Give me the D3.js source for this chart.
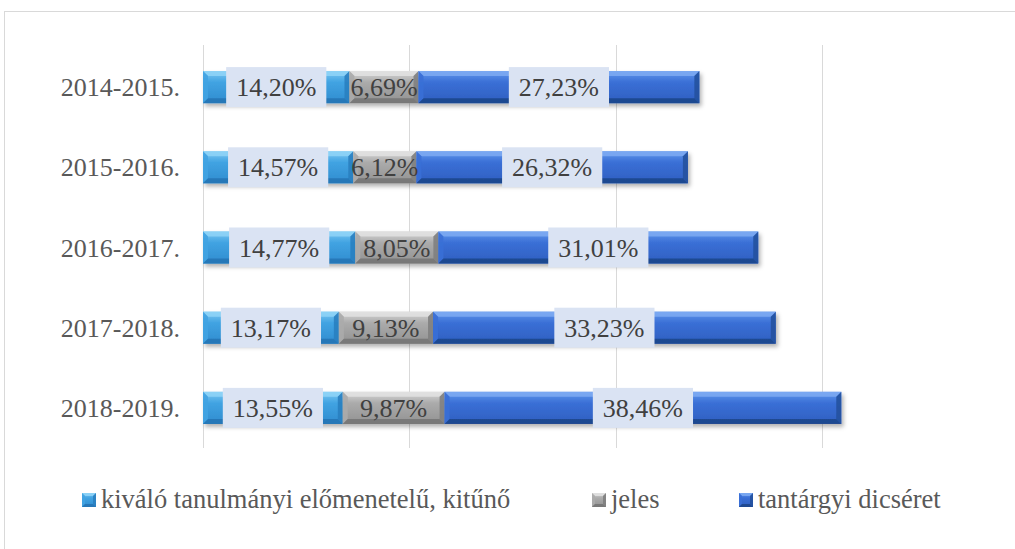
<!DOCTYPE html>
<html><head><meta charset="utf-8">
<script src="https://cdn.jsdelivr.net/npm/d3@7"></script>
<style>body{margin:0;background:#fff} svg{display:block}</style>
</head><body><svg id="c" width="1015" height="549"></svg>
<script>
const categories = ["2014-2015.","2015-2016.","2016-2017.","2017-2018.","2018-2019."];
const seriesNames = ["kiváló tanulmányi előmenetelű, kitűnő","jeles","tantárgyi dicséret"];
const kivalo = [14.20,14.57,14.77,13.17,13.55];
const jeles = [6.69,6.12,8.05,9.13,9.87];
const dicseret = [27.23,26.32,31.01,33.23,38.46];
const xTicks = [0,20,40,60,80];

const svg = d3.select("#c");
const FONT = "'Liberation Serif','Times New Roman',serif";
const palettes = [
  {top:"#7cc8f2", mid:"#41a3e2", bot:"#2f8ccf", light:"#8fd3f7", dark:"#2a7fc0", edge:"#2676b5"},
  {top:"#d6d6d6", mid:"#ababab", bot:"#929292", light:"#e2e2e2", dark:"#808080", edge:"#767676"},
  {top:"#6298ec", mid:"#3a6fd6", bot:"#2f5fc0", light:"#7eaaf2", dark:"#23519e", edge:"#1e478c"}
];
const showBox = [true,false,true];

const defs = svg.append("defs");
palettes.forEach((p,i)=>{
  const g = defs.append("linearGradient").attr("id","g"+i).attr("x1",0).attr("y1",0).attr("x2",0).attr("y2",1);
  g.append("stop").attr("offset","0").attr("stop-color",p.top);
  g.append("stop").attr("offset","0.35").attr("stop-color",p.mid);
  g.append("stop").attr("offset","1").attr("stop-color",p.bot);
});
const f = defs.append("filter").attr("id","sh").attr("x","-5%").attr("y","-30%").attr("width","115%").attr("height","180%");
f.append("feDropShadow").attr("dx",2).attr("dy",3).attr("stdDeviation",2).attr("flood-color","#000").attr("flood-opacity",0.3);

// frame
svg.append("rect").attr("x",4.5).attr("y",11.5).attr("width",1030).attr("height",560)
  .attr("fill","none").attr("stroke","#d9d9d9").attr("stroke-width",1);

const x = d3.scaleLinear().domain([0,80]).range([203,1028.2]);
const y = d3.scaleBand().domain(categories).range([47,448]).paddingInner(0.6).paddingOuter(0.3);

// gridlines
svg.append("g").selectAll("line").data(xTicks).join("line")
  .attr("x1",d=>Math.round(x(d))+0.5).attr("x2",d=>Math.round(x(d))+0.5)
  .attr("y1",45).attr("y2",448).attr("stroke","#d9d9d9").attr("stroke-width",1);

// category labels
svg.append("g").selectAll("text").data(categories).join("text")
  .attr("x",180).attr("y",d=>y(d)+y.bandwidth()/2).attr("dy","0.35em")
  .attr("text-anchor","end").attr("font-family",FONT).attr("font-size",26).attr("fill","#595959")
  .text(d=>d);

const seriesVals = [kivalo,jeles,dicseret];
const rows = categories.map((c,i)=>{
  let acc=0; return seriesVals.map((s,k)=>{const r={cat:c,k,v:s[i],x0:acc,x1:acc+s[i]}; acc+=s[i]; return r;});
});
const segs = rows.flat();

function bevel(g, x0, y0, w, h, p, k, b){
  const gg = g.append("g");
  gg.append("rect").attr("x",x0).attr("y",y0).attr("width",w).attr("height",h).attr("fill",`url(#g${k})`);
  const poly = (pts,fill,op)=>gg.append("polygon").attr("points",pts.map(q=>q.join(",")).join(" ")).attr("fill",fill).attr("opacity",op);
  const x1=x0+w, y1=y0+h;
  poly([[x0,y0],[x1,y0],[x1-b,y0+b],[x0+b,y0+b]],p.light,0.85);
  poly([[x0,y0],[x0+b,y0+b],[x0+b,y1-b],[x0,y1]],p.mid,0.9);
  poly([[x1,y0],[x1,y1],[x1-b,y1-b],[x1-b,y0+b]],p.dark,0.9);
  poly([[x0,y1],[x1,y1],[x1-b,y1-b],[x0+b,y1-b]],p.edge,0.9);
  return gg;
}

const barG = svg.append("g");
categories.forEach(c=>{
  const rg = barG.append("g").attr("filter","url(#sh)");
  segs.filter(s=>s.cat===c).forEach(s=>{
    bevel(rg, x(s.x0), y(c), x(s.x1)-x(s.x0), y.bandwidth(), palettes[s.k], s.k, 5);
  });
});

// labels
const fmt = v=>v.toFixed(2).replace(".",",")+"%";
const labG = svg.append("g");
segs.forEach(s=>{
  const cx = (x(s.x0)+x(s.x1))/2, cy = y(s.cat)+y.bandwidth()/2;
  const g = labG.append("g");
  const t = g.append("text").attr("x",cx).attr("y",cy).attr("dy","0.35em").attr("text-anchor","middle")
    .attr("font-family",FONT).attr("font-size",26).attr("fill","#404040").text(fmt(s.v));
  if(showBox[s.k]){
    const len = t.node().getComputedTextLength();
    g.insert("rect","text").attr("x",cx-len/2-10).attr("y",cy-20).attr("width",len+20).attr("height",40).attr("fill","#dae3f3");
  }
});

// legend
const legX = [82,592,739];
const lg = svg.append("g");
seriesNames.forEach((n,k)=>{
  bevel(lg, legX[k], 493, 14, 14, palettes[k], k, 3);
  lg.append("text").attr("x",legX[k]+19).attr("y",508).attr("font-family",FONT).attr("font-size",26.5)
    .attr("fill","#595959").text(n);
});
</script></body></html>
